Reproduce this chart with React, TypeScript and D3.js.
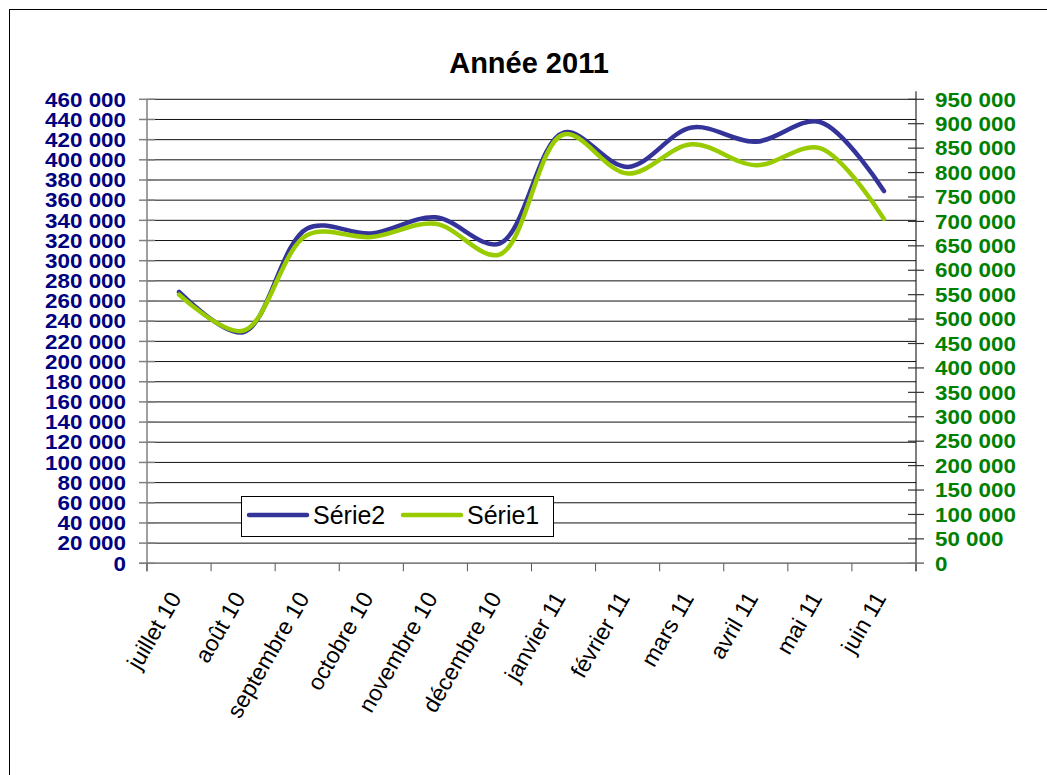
import * as d3 from "d3";

const months = [
  "juillet 10", "août 10", "septembre 10", "octobre 10", "novembre 10", "décembre 10",
  "janvier 11", "février 11", "mars 11", "avril 11", "mai 11", "juin 11",
];
// Série2 -> left axis, Série1 -> right axis
const serie2 = [269000, 229000, 332000, 327000, 343000, 317000, 427000, 393000, 432000, 418000, 437500, 369000];
const serie1 = [550000, 476000, 672000, 668000, 695000, 632000, 878000, 798000, 858000, 815000, 850000, 705000];
const leftTicks = d3.range(0, 460001, 20000);
const rightTicks = d3.range(0, 950001, 50000);

const W = 1047;
const H = 775;
const plot = { left: 147, right: 916, top: 99.3, bottom: 563.3 };
const fontFamily = "Arial, 'Liberation Sans', sans-serif";
const fmt = (v: number) => d3.format(",")(v).replace(/,/g, " ");

export default function App() {
  const x = d3.scaleBand<string>().domain(months).range([plot.left, plot.right]);
  const yL = d3.scaleLinear().domain([0, 460000]).range([plot.bottom, plot.top]);
  const yR = d3.scaleLinear().domain([0, 950000]).range([plot.bottom, plot.top]);
  const cx = (m: string) => (x(m) ?? 0) + x.bandwidth() / 2;

  const lineL = d3.line<number>()
    .x((_, i) => cx(months[i]))
    .y(d => yL(d))
    .curve(d3.curveCatmullRom.alpha(0.5));
  const lineR = d3.line<number>()
    .x((_, i) => cx(months[i]))
    .y(d => yR(d))
    .curve(d3.curveCatmullRom.alpha(0.5));

  const boundaries = [...months.map(m => x(m) ?? 0), plot.right];

  return (
    <svg width={W} height={H} style={{ position: "absolute", left: 0, top: 0 }} fontFamily={fontFamily}>
      <rect x={0} y={0} width={W} height={H} fill="#fff" />
      <rect x={9.5} y={9.5} width={W + 20} height={H + 20} fill="none" stroke="#000" strokeWidth={1} />

      <text x={529} y={73} textAnchor="middle" fontSize={29} fontWeight="bold" fill="#000">Année 2011</text>

      {/* gridlines */}
      {leftTicks.map(t => (
        <line key={"g" + t} x1={plot.left} x2={plot.right} y1={yL(t)} y2={yL(t)} stroke="#111" strokeWidth={1} />
      ))}

      {/* left axis */}
      <line x1={plot.left} x2={plot.left} y1={plot.top} y2={plot.bottom + 8} stroke="#808080" strokeWidth={1.5} />
      {leftTicks.map(t => (
        <g key={"l" + t}>
          <line x1={plot.left - 8} x2={plot.left + 8} y1={yL(t)} y2={yL(t)} stroke="#808080" strokeWidth={1.5} />
          <text transform={`translate(126,${yL(t)}) scale(1.12,1)`} dy="0.36em" textAnchor="end"
            fontSize={20} fontWeight="bold" fill="#000080">{fmt(t)}</text>
        </g>
      ))}

      {/* right axis */}
      <line x1={plot.right} x2={plot.right} y1={plot.top - 8} y2={plot.bottom + 8} stroke="#000" strokeWidth={1} />
      {rightTicks.map(t => (
        <g key={"r" + t}>
          <line x1={plot.right - 8} x2={plot.right + 8} y1={yR(t)} y2={yR(t)} stroke="#333" strokeWidth={1.2} />
          <text transform={`translate(935,${yR(t)}) scale(1.12,1)`} dy="0.36em" textAnchor="start"
            fontSize={20} fontWeight="bold" fill="#008000">{fmt(t)}</text>
        </g>
      ))}

      {/* bottom axis */}
      <line x1={plot.left - 8} x2={plot.right + 8} y1={plot.bottom} y2={plot.bottom} stroke="#808080" strokeWidth={1.5} />
      {boundaries.map((b, i) => (
        <line key={"b" + i} x1={b} x2={b} y1={plot.bottom} y2={plot.bottom + 8} stroke="#555" strokeWidth={1} />
      ))}
      {months.map(m => (
        <text key={m} transform={`translate(${cx(m) - 4},594) rotate(-60)`} dy="0.35em" textAnchor="end"
          fontSize={23} fill="#000">{m}</text>
      ))}

      {/* series */}
      <path d={lineL(serie2) ?? ""} fill="none" stroke="#333399" strokeWidth={4.5} strokeLinecap="round" />
      <path d={lineR(serie1) ?? ""} fill="none" stroke="#99CC00" strokeWidth={4.5} strokeLinecap="round" />

      {/* legend */}
      <rect x={241.5} y={496.5} width={312} height={40} fill="#fff" stroke="#000" strokeWidth={1} />
      <line x1={249} x2={307} y1={515} y2={515} stroke="#333399" strokeWidth={4.5} strokeLinecap="round" />
      <text x={313} y={524} fontSize={25} fill="#000">Série2</text>
      <line x1={403} x2={461} y1={515} y2={515} stroke="#99CC00" strokeWidth={4.5} strokeLinecap="round" />
      <text x={467} y={524} fontSize={25} fill="#000">Série1</text>
    </svg>
  );
}
